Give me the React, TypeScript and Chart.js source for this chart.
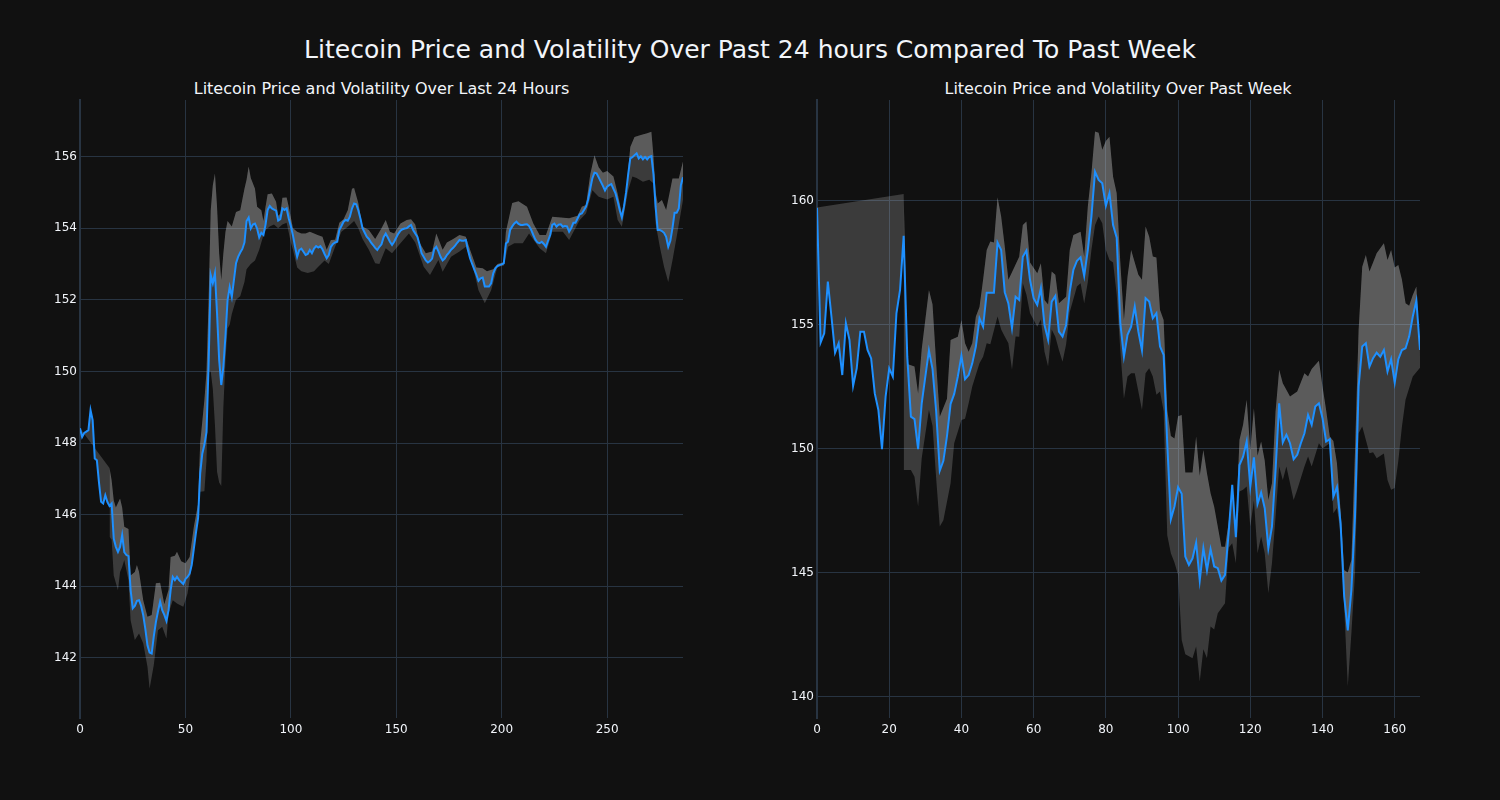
import React, { useEffect, useRef } from "react";
import { Chart, registerables } from "chart.js";

Chart.register(...registerables);

// ---------- Data: last 24 hours (5-minute steps) ----------
const leftPrice = [
  148.41, 148.17, 148.28, 148.32, 148.36, 148.92, 148.64, 147.57, 147.52, 146.9,
  146.36, 146.31, 146.54, 146.35, 146.24, 146.31, 145.33, 145.1, 144.96, 145.1,
  145.43, 144.95, 144.87, 144.84, 143.9, 143.38, 143.45, 143.59, 143.61, 143.45,
  143.19, 142.8, 142.35, 142.15, 142.12, 142.6, 143.0, 143.3, 143.57, 143.33,
  143.2, 143.03, 143.33, 143.9, 144.26, 144.17, 144.26, 144.17, 144.12, 144.06,
  144.2, 144.26, 144.35, 144.6, 145.05, 145.5, 145.9, 147.15, 147.7, 147.95,
  148.3, 150.2, 152.69, 152.46, 152.74, 151.62, 150.32, 149.62, 150.13, 151.0,
  152.0, 152.36, 152.08, 152.55, 153.02, 153.2, 153.32, 153.42, 153.6, 154.2,
  154.3, 153.99, 154.1, 154.13, 153.99, 153.74, 153.87, 153.81, 154.1, 154.51,
  154.62, 154.55, 154.52, 154.49, 154.21, 154.25, 154.55, 154.51, 154.55, 154.27,
  154.06, 153.8, 153.48, 153.2, 153.39, 153.43, 153.34, 153.25, 153.28, 153.39,
  153.3, 153.43, 153.5, 153.46, 153.5, 153.41, 153.28, 153.16, 153.25, 153.48,
  153.56, 153.6, 153.62, 153.95, 154.06, 154.18, 154.23, 154.21, 154.32, 154.55,
  154.69, 154.67, 154.5, 154.27, 154.0, 153.88, 153.76, 153.7, 153.6, 153.53,
  153.45, 153.39, 153.48, 153.55, 153.75, 153.85, 153.74, 153.62, 153.53, 153.62,
  153.74, 153.85, 153.93, 153.97, 153.99, 154.0, 154.05, 154.09, 153.95, 153.85,
  153.76, 153.55, 153.3, 153.2, 153.1, 153.04, 153.08, 153.15, 153.41, 153.48,
  153.35, 153.2, 153.1, 153.15, 153.25, 153.32, 153.4, 153.45, 153.52, 153.6,
  153.67, 153.65, 153.65, 153.67, 153.39, 153.16, 153.0, 152.85, 152.7, 152.53,
  152.6, 152.62, 152.37, 152.37, 152.37, 152.46, 152.74, 152.88, 152.94, 152.97,
  152.99, 153.02, 153.57, 153.62, 153.95, 154.05, 154.13, 154.18, 154.12, 154.09,
  154.09, 154.1, 154.11, 154.06, 153.95, 153.81, 153.68, 153.6, 153.58, 153.62,
  153.56, 153.48, 153.65, 153.81, 154.09, 154.13, 154.04, 154.1, 154.11, 154.04,
  154.06, 154.05, 153.9, 154.0, 154.15, 154.15, 154.27, 154.39, 154.41, 154.5,
  154.6, 154.8, 155.1, 155.39, 155.55, 155.53, 155.42, 155.3, 155.18, 155.05,
  155.16, 155.2, 155.23, 155.1, 154.97, 154.75, 154.5, 154.3, 154.6, 155.0,
  155.5, 155.95, 155.98, 156.04, 156.09, 155.95, 156.01, 155.92, 155.99, 155.92,
  155.99, 156.01, 155.5, 154.6, 153.95, 153.95, 153.92, 153.87, 153.76, 153.48,
  153.65, 154.0, 154.43, 154.43, 154.55, 155.2, 155.42,
];

const leftUpperX = [
  0, 14, 15, 16, 17, 19, 20, 21, 23, 24, 26, 27, 28, 30, 32, 34, 36, 38, 40, 42,
  43, 45, 46, 48, 50, 52, 54, 56, 57, 59, 60, 61, 62, 63, 64, 65, 66, 67, 68, 69,
  70, 72, 74, 76, 78, 79, 80, 81, 83, 84, 86, 87, 88, 89, 91, 93, 94, 95, 96, 98,
  99, 101, 103, 105, 107, 109, 111, 113, 115, 117, 119, 121, 123, 125, 127, 129, 130, 132, 134, 137,
  140, 143, 145, 147, 149, 152, 155, 157, 159, 161, 164, 167, 169, 172, 174, 177, 180, 183, 185, 188,
  191, 193, 196, 198, 201, 202, 205, 208, 212, 215, 218, 221, 224, 228, 232, 236, 238, 240, 242, 244,
  246, 248, 250, 253, 255, 257, 259, 261, 263, 266, 269, 271, 272, 273, 274, 276, 278, 281, 284, 286,
];
const leftUpper = [
  148.41, 147.3, 146.96, 146.4, 146.2, 146.45, 146.2, 145.66, 145.6, 144.3, 144.4, 144.59, 144.4, 143.6, 143.15, 143.2, 144.08, 144.1, 143.5, 143.9,
  144.82, 144.85, 144.96, 144.7, 144.64, 144.82, 145.66, 146.3, 148.0, 149.2, 150.0, 152.0, 154.5, 155.2, 155.53, 154.6, 153.3, 152.55, 153.3, 153.9,
  154.2, 154.05, 154.45, 154.5, 155.1, 155.35, 155.72, 155.4, 155.1, 154.6, 154.5, 154.2, 154.6, 154.95, 154.97, 154.74, 154.35, 154.4, 154.85, 154.86,
  154.6, 154.0, 153.9, 153.85, 153.85, 153.9, 153.85, 153.8, 153.76, 153.4, 153.67, 153.68, 154.15, 154.25, 154.5, 155.1, 155.12, 154.7, 154.05, 153.95,
  153.7, 154.0, 154.23, 153.9, 153.85, 154.13, 154.23, 154.25, 154.1, 153.6, 153.3, 153.35, 153.85, 153.4, 153.6, 153.7, 153.81, 153.76, 153.4, 152.9,
  152.88, 152.8, 152.85, 153.0, 153.05, 153.9, 154.7, 154.75, 154.6, 154.13, 153.81, 153.81, 154.32, 154.3, 154.28, 154.35, 154.6, 154.65, 155.5, 156.04,
  155.7, 155.55, 155.6, 155.44, 154.97, 154.41, 155.0, 156.27, 156.55, 156.6, 156.65, 156.69, 156.0, 155.0, 154.69, 154.79, 154.51, 155.39, 155.39, 155.86,
];

const leftLowerX = [
  14, 15, 16, 18, 19, 20, 21, 23, 24, 26, 28, 30, 32, 33, 35, 37, 39, 41, 42, 44,
  46, 49, 51, 53, 55, 57, 59, 60, 61, 62, 63, 64, 65, 66, 67, 68, 69, 70, 71, 72,
  74, 76, 78, 79, 81, 83, 85, 87, 88, 90, 92, 94, 96, 98, 100, 101, 103, 105, 108, 111,
  113, 116, 118, 121, 124, 127, 130, 132, 134, 137, 140, 142, 145, 148, 152, 156, 159, 163, 166, 170,
  172, 176, 180, 183, 186, 189, 192, 195, 198, 201, 203, 206, 210, 213, 216, 218, 221, 224, 229, 232,
  237, 240, 243, 246, 250, 253, 255, 257, 260, 262, 264, 267, 270, 272, 273, 275, 277, 279, 281, 283,
  286,
];
const leftLower = [
  145.38, 145.3, 144.3, 143.89, 144.4, 144.54, 144.73, 144.17, 143.05, 142.5, 142.68, 142.4, 141.75, 141.14, 141.8, 142.77, 142.87, 142.54, 143.24, 143.61,
  143.52, 143.43, 143.8, 144.54, 145.47, 146.64, 146.65, 147.5, 150.0, 150.0, 149.5, 148.5, 147.2, 146.9, 146.8, 149.0, 150.3, 151.2, 151.3, 151.6,
  152.0, 152.1, 152.5, 152.85, 153.0, 153.1, 153.4, 153.8, 153.95, 154.05, 154.1, 154.0, 154.1, 154.15, 153.6, 153.4, 152.9, 152.8, 152.75, 152.8,
  152.92, 153.1, 153.0, 153.48, 153.9, 154.04, 154.2, 154.0, 153.7, 153.4, 153.02, 153.0, 153.44, 153.3, 153.58, 153.85, 153.6, 152.92, 152.69, 153.11,
  152.78, 153.2, 153.35, 153.48, 153.0, 152.27, 151.9, 152.27, 152.92, 152.95, 153.48, 153.58, 153.58, 153.85, 153.6, 153.44, 153.3, 153.9, 153.9, 153.67,
  154.23, 154.41, 155.06, 154.88, 154.8, 154.88, 154.23, 154.04, 155.06, 155.44, 155.4, 155.3, 155.35, 155.25, 154.13, 153.48, 152.92, 152.5, 153.1, 153.76,
  154.79,
];

// ---------- Data: past week (hourly steps) ----------
const rightPrice = [
  159.7, 154.27, 154.64, 156.73, 155.32, 153.86, 154.24, 152.96, 155.05, 154.37,
  152.52, 153.23, 154.71, 154.71, 153.97, 153.63, 152.22, 151.55, 149.97, 152.09,
  153.23, 152.9, 155.45, 156.39, 158.57, 153.7, 151.28, 151.18, 149.97, 151.82,
  152.9, 153.95, 153.2, 151.5, 149.1, 149.5, 150.5, 151.8, 152.2, 152.9,
  153.73, 152.79, 152.96, 153.43, 154.11, 155.25, 154.91, 156.28, 156.28, 156.28,
  158.3, 158.0, 156.3, 155.85, 154.85, 156.12, 155.99, 157.73, 157.98, 156.79,
  156.06, 155.79, 156.46, 154.98, 154.38, 155.92, 156.15, 154.71, 154.51, 154.98,
  156.32, 157.2, 157.57, 157.71, 156.96, 158.0, 159.35, 161.16, 160.83, 160.69,
  159.78, 160.29, 159.01, 158.5, 155.05, 153.7, 154.58, 154.91, 155.72, 154.71,
  153.95, 156.06, 155.92, 155.25, 155.45, 154.11, 153.77, 150.2, 147.14, 147.66,
  148.44, 148.17, 145.64, 145.3, 145.57, 146.2, 144.67, 145.98, 145.08, 145.94,
  145.24, 145.17, 144.67, 144.9, 146.58, 148.53, 146.42, 149.33, 149.67, 150.28,
  148.46, 149.64, 147.76, 148.22, 147.59, 145.98, 146.85, 149.13, 151.82, 150.24,
  150.55, 150.21, 149.56, 149.74, 150.21, 150.61, 151.35, 150.95, 151.69, 151.82,
  151.22, 150.28, 150.37, 148.06, 148.44, 146.98, 144.03, 142.66, 144.3, 147.25,
  152.5, 154.11, 154.24, 153.3, 153.64, 153.86, 153.7, 153.97, 153.1, 153.6,
  152.65, 153.6, 153.97, 154.04, 154.51, 155.32, 155.96, 153.97,
];

const rightUpperX = [
  0, 24, 25, 27, 28, 29, 31, 32, 33, 34, 36, 37, 39, 40, 41, 42, 43, 44, 45, 46,
  47, 48, 49, 50, 51, 52, 53, 54, 56, 57, 58, 59, 61, 62, 63, 64, 65, 66, 67, 69,
  70, 71, 73, 74, 75, 76, 77, 78, 79, 80, 81, 82, 83, 84, 85, 86, 87, 88, 89, 90,
  91, 92, 93, 94, 95, 96, 97, 98, 99, 100, 101, 102, 104, 105, 106, 107, 108, 109, 110, 112,
  113, 114, 115, 116, 117, 118, 119, 120, 121, 122, 123, 124, 125, 126, 127, 128, 129, 131, 133, 135,
  136, 137, 139, 140, 141, 142, 143, 144, 145, 146, 147, 148, 149, 150, 151, 152, 153, 154, 155, 157,
  158, 159, 160, 161, 162, 163, 164, 165, 166, 167,
];
const rightUpper = [
  159.72, 160.26, 153.4, 153.3, 152.22, 154.0, 156.39, 155.8, 153.43, 151.28, 152.0, 154.37, 154.5, 155.18, 154.24, 153.9, 154.24, 155.32, 155.7, 156.8,
  158.0, 158.34, 158.3, 160.13, 159.35, 158.14, 156.8, 157.1, 157.73, 159.01, 159.15, 157.5, 157.06, 157.47, 155.99, 155.8, 157.13, 157.0, 155.85, 156.12,
  158.0, 158.61, 158.74, 157.73, 159.75, 161.1, 162.78, 162.73, 162.04, 162.4, 162.57, 160.96, 160.29, 157.5, 155.18, 156.93, 158.0, 157.5, 157.0, 156.8,
  158.95, 158.54, 157.74, 157.7, 155.58, 155.18, 151.55, 150.5, 150.4, 151.3, 151.35, 149.03, 149.03, 150.48, 148.9, 149.94, 149.0, 148.19, 147.65, 146.04,
  146.04, 147.0, 148.33, 146.8, 150.34, 150.95, 151.96, 149.94, 151.62, 149.7, 150.28, 149.5, 147.92, 148.6, 151.5, 153.17, 152.63, 152.09, 152.3, 153.03,
  152.9, 153.2, 153.54, 152.5, 151.55, 150.48, 150.3, 149.4, 147.5, 145.1, 145.0, 145.5, 149.9, 154.78, 157.33, 157.8, 157.13, 157.5, 157.87, 158.27,
  157.6, 158.0, 157.3, 157.4, 156.8, 155.85, 155.75, 156.19, 156.53, 153.7,
];

const rightLowerX = [
  24, 26, 27, 28, 29, 31, 32, 33, 34, 35, 37, 38, 40, 41, 42, 43, 45, 46, 47, 48,
  50, 51, 52, 53, 54, 55, 56, 57, 58, 59, 61, 62, 63, 64, 65, 66, 67, 68, 69, 70,
  72, 73, 74, 75, 76, 77, 78, 79, 80, 81, 82, 83, 84, 85, 86, 87, 88, 89, 90, 91,
  92, 93, 94, 95, 96, 97, 98, 99, 100, 101, 102, 104, 105, 106, 107, 108, 109, 110, 111, 112,
  113, 114, 115, 116, 117, 118, 119, 120, 121, 122, 123, 124, 125, 126, 127, 128, 129, 130, 132, 133,
  135, 136, 137, 139, 140, 142, 143, 144, 145, 146, 147, 148, 149, 150, 151, 153, 154, 155, 157, 158,
  159, 160, 161, 162, 163, 165, 167,
];
const rightLower = [
  149.13, 149.13, 148.86, 147.66, 149.6, 151.55, 150.9, 148.8, 146.85, 147.1, 148.6, 150.21, 151.15, 151.2, 151.82, 152.5, 153.43, 153.7, 154.24, 154.2,
  155.32, 154.8, 154.51, 154.24, 153.17, 154.51, 154.5, 156.66, 156.2, 155.45, 154.91, 155.2, 153.9, 153.3, 154.8, 154.5, 153.97, 153.5, 154.2, 155.5,
  156.53, 156.66, 155.85, 156.7, 158.0, 159.0, 159.35, 159.08, 158.0, 157.6, 157.5, 156.2, 153.97, 152.0, 152.9, 153.03, 153.03, 152.3, 151.55, 153.03,
  153.23, 152.9, 152.16, 152.3, 151.5, 146.5, 145.77, 145.4, 144.9, 142.28, 141.7, 141.54, 142.01, 140.6, 141.9, 141.54, 142.82, 142.7, 143.35, 143.56,
  143.76, 146.0, 146.18, 145.37, 148.26, 148.33, 148.46, 146.85, 147.9, 145.77, 146.45, 145.77, 144.16, 145.37, 147.25, 149.27, 148.73, 149.27, 147.92, 148.33,
  149.27, 149.67, 149.27, 150.21, 150.0, 150.21, 147.39, 147.6, 146.58, 143.62, 140.4, 142.55, 144.97, 150.61, 150.88, 149.81, 149.85, 149.6, 149.8, 148.73,
  148.33, 148.4, 149.5, 150.88, 151.96, 152.9, 153.25,
];

// ---------- Axis ticks ----------
const leftXTicks = [0, 50, 100, 150, 200, 250];
const leftYTicks = [142, 144, 146, 148, 150, 152, 154, 156];
const rightXTicks = [0, 20, 40, 60, 80, 100, 120, 140, 160];
const rightYTicks = [140, 145, 150, 155, 160];

const mainTitle = "Litecoin Price and Volatility Over Past 24 hours Compared To Past Week";
const leftTitle = "Litecoin Price and Volatility Over Last 24 Hours";
const rightTitle = "Litecoin Price and Volatility Over Past Week";

const FONT = "'DejaVu Sans', Verdana, sans-serif";
const TEXT = "#f2f5fa";
const GRID = "#283442";
const BAND = "rgba(211,211,211,0.22)";
const LINE = "#1e90ff";

function buildConfig(
  price: number[],
  upX: number[],
  up: number[],
  loX: number[],
  lo: number[],
  xMax: number,
  yMin: number,
  yMax: number,
  xTicks: number[],
  yTicks: number[]
): any {
  return {
    type: "line",
    data: {
      datasets: [
        {
          label: "Price",
          data: price.map((y, i) => ({ x: i, y })),
          borderColor: LINE,
          borderWidth: 2,
          pointRadius: 0,
          fill: false,
          tension: 0,
          order: 0,
        },
        {
          label: "Upper",
          data: upX.map((x, k) => ({ x, y: up[k] })),
          borderColor: "rgba(0,0,0,0)",
          borderWidth: 0,
          pointRadius: 0,
          backgroundColor: BAND,
          fill: "-1",
          tension: 0,
          order: 1,
        },
        {
          label: "Lower",
          data: loX.map((x, k) => ({ x, y: lo[k] })),
          borderColor: "rgba(0,0,0,0)",
          borderWidth: 0,
          pointRadius: 0,
          backgroundColor: BAND,
          fill: "-1",
          tension: 0,
          order: 2,
        },
      ],
    },
    options: {
      responsive: false,
      animation: false,
      devicePixelRatio: 1,
      layout: { padding: { left: 0, right: 17, top: 30, bottom: 2 } },
      plugins: {
        legend: { display: false },
        tooltip: { enabled: false },
        title: { display: false },
      },
      scales: {
        x: {
          type: "linear",
          min: 0,
          max: xMax,
          afterBuildTicks: (a: any) => {
            a.ticks = xTicks.map((v) => ({ value: v }));
          },
          afterFit: (a: any) => {
            a.height = 30;
          },
          grid: { color: GRID, lineWidth: 1, drawTicks: false },
          border: { display: false },
          ticks: {
            color: TEXT,
            font: { family: FONT, size: 12 },
            padding: 5,
            maxRotation: 0,
            autoSkip: false,
          },
        },
        y: {
          type: "linear",
          min: yMin,
          max: yMax,
          afterBuildTicks: (a: any) => {
            a.ticks = yTicks.map((v) => ({ value: v }));
          },
          afterFit: (a: any) => {
            a.width = 80;
          },
          grid: { color: GRID, lineWidth: 1, drawTicks: false },
          border: { display: true, color: GRID, width: 2 },
          ticks: {
            color: TEXT,
            font: { family: FONT, size: 12 },
            padding: 3,
            autoSkip: false,
          },
        },
      },
    },
  };
}

export default function App() {
  const leftRef = useRef<HTMLCanvasElement>(null);
  const rightRef = useRef<HTMLCanvasElement>(null);

  useEffect(() => {
    document.body.style.margin = "0";
    document.body.style.background = "#111111";
    const c1 = new Chart(
      leftRef.current as HTMLCanvasElement,
      buildConfig(leftPrice, leftUpperX, leftUpper, leftLowerX, leftLower, 286, 140.32, 157.58, leftXTicks, leftYTicks)
    );
    const c2 = new Chart(
      rightRef.current as HTMLCanvasElement,
      buildConfig(rightPrice, rightUpperX, rightUpper, rightLowerX, rightLower, 167, 139.13, 164.05, rightXTicks, rightYTicks)
    );
    return () => {
      c1.destroy();
      c2.destroy();
    };
  }, []);

  const titleBase: React.CSSProperties = {
    position: "absolute",
    color: TEXT,
    fontFamily: FONT,
    whiteSpace: "nowrap",
    textAlign: "center",
  };

  return (
    <div
      style={{
        position: "fixed",
        left: 0,
        top: 0,
        width: 1500,
        height: 800,
        background: "#111111",
        overflow: "hidden",
      }}
    >
      <div style={{ ...titleBase, left: 0, width: 1500, top: 37, fontSize: 25, lineHeight: "25px" }}>{mainTitle}</div>
      <div style={{ ...titleBase, left: 81.5, width: 600, top: 81, fontSize: 16, lineHeight: "16px" }}>{leftTitle}</div>
      <div style={{ ...titleBase, left: 818, width: 600, top: 81, fontSize: 16, lineHeight: "16px" }}>{rightTitle}</div>
      <canvas
        ref={leftRef}
        width={700}
        height={680}
        style={{ position: "absolute", left: 0, top: 70, width: 700, height: 680 }}
      />
      <canvas
        ref={rightRef}
        width={700}
        height={680}
        style={{ position: "absolute", left: 737, top: 70, width: 700, height: 680 }}
      />
    </div>
  );
}
